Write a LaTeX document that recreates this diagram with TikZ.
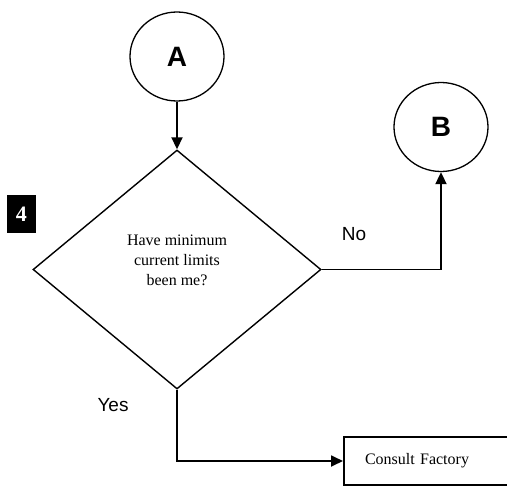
\documentclass[tikz,border=0pt]{standalone}
\usepackage{fontspec}
\setmainfont{Liberation Serif}
\newfontfamily\arial{Liberation Sans}
\usetikzlibrary{shapes.geometric,arrows.meta}
\begin{document}
\begin{tikzpicture}[x=1pt,y=-1pt,
  connector/.style={line width=1.8pt,-{Triangle[length=12pt,width=11pt]}},
  terminal/.style={ellipse,draw,line width=1.3pt,inner sep=0pt,
    minimum width=94pt,minimum height=89pt,font=\arial\bfseries\fontsize{28}{30}\selectfont},
  decision/.style={diamond,draw,line width=1.4pt,inner sep=0pt,
    minimum width=288pt,minimum height=239pt},
  question/.style={align=center,font=\fontsize{16}{20}\selectfont,inner sep=0pt},
  process/.style={rectangle,draw,line width=2pt,minimum height=48pt,inner xsep=21pt,
    text width=126pt,align=left,font=\fontsize{16}{19}\selectfont},
  answer/.style={font=\arial\fontsize{19}{22}\selectfont,inner sep=0pt},
  stepnum/.style={fill=black,text=white,minimum width=29pt,minimum height=38pt,inner sep=0pt,
    font=\bfseries\fontsize{22}{22}\selectfont}]
  \useasboundingbox (0,0) rectangle (507,488);
  \clip (0,0) rectangle (507,488);

  % entry and exit connectors
  \node[terminal] (A) at (177,56.5) {A};
  \node[terminal] (B) at (441,127) {B};

  % decision
  \node[decision] (D) at (177,269.5) {};
  \node[question] (Q) at (177,260) {Have minimum\\current limits\\been me?};
  \node[stepnum] (N) at (21.5,214) {4};

  % action box
  \node[process] (F) at (428,461) {Consult Factory};

  % branch labels
  \node[answer] (no) at (354,234) {No};
  \node[answer] (yes) at (113,405) {Yes};

  \coordinate (c1) at (441,269.5);
  \coordinate (c2) at (177,461);

  \draw[connector] (A.south) -- (D.north);
  \draw[connector] (D.east) -- (c1) -- (B.south);
  \draw[connector] (D.south) -- (c2) -- (F.west);
\end{tikzpicture}
\end{document}
